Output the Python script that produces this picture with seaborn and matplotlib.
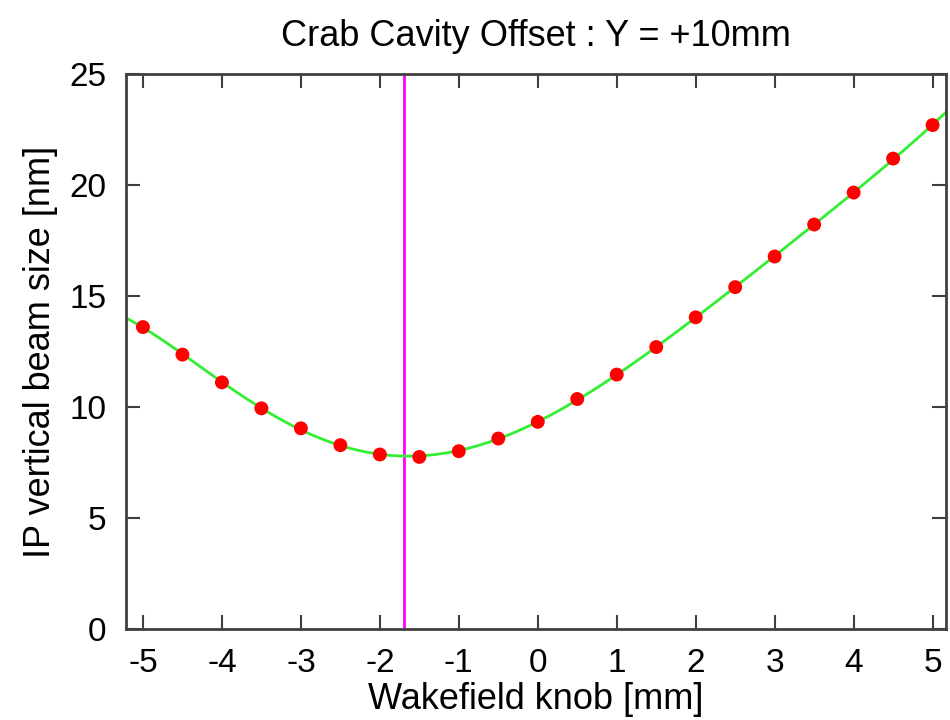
import numpy as np
import pandas as pd
import matplotlib
matplotlib.use("Agg")
import matplotlib.pyplot as plt
import seaborn as sns

# ---- data ----
knob_mm = [-5.0, -4.5, -4.0, -3.5, -3.0, -2.5, -2.0, -1.5, -1.0, -0.5,
           0.0, 0.5, 1.0, 1.5, 2.0, 2.5, 3.0, 3.5, 4.0, 4.5, 5.0]
beam_size_nm = [13.60, 12.36, 11.11, 9.94, 9.04, 8.28, 7.86, 7.75, 8.01, 8.58,
                9.33, 10.36, 11.46, 12.70, 14.04, 15.40, 16.78, 18.22, 19.66, 21.19, 22.70]
min_knob = -1.70
x_ticks = [-5, -4, -3, -2, -1, 0, 1, 2, 3, 4, 5]
y_ticks = [0, 5, 10, 15, 20, 25]
title = "Crab Cavity Offset : Y = +10mm"
xlabel = "Wakefield knob [mm]"
ylabel = "IP vertical beam size [nm]"

df = pd.DataFrame({"knob": knob_mm, "size": beam_size_nm})

sns.set_style("white")
plt.rcParams["font.family"] = ["Liberation Sans", "DejaVu Sans"]
plt.rcParams["axes.unicode_minus"] = False
plt.rcParams["text.color"] = "black"
plt.rcParams["axes.labelcolor"] = "black"
plt.rcParams["xtick.color"] = "black"
plt.rcParams["ytick.color"] = "black"

fig = plt.figure(figsize=(9.5, 7.2), dpi=100)
ax = fig.add_axes([0.1326, 0.1264, 0.8632, 0.7708])
ax.set_xlim(-5.215, 5.17)
ax.set_ylim(0, 25)

sns.regplot(data=df, x="knob", y="size", order=6, ci=None, truncate=False,
            scatter=False, line_kws=dict(color="#33ee33", lw=2.0, zorder=2), ax=ax)
ax.axvline(min_knob, color="#ff00ff", lw=2.0, zorder=1)
sns.scatterplot(data=df, x="knob", y="size", color="#ff0000", s=100,
                edgecolor="none", zorder=3, ax=ax)

ax.set_xticks(x_ticks)
ax.set_yticks(y_ticks)
ax.tick_params(axis="both", direction="in", length=10, width=1.5,
               labelsize=24, top=True, right=True, bottom=True, left=True)
ax.tick_params(axis="both", which="both", color="#404040")
ax.tick_params(axis="x", pad=14)
ax.tick_params(axis="y", pad=14)
for s in ax.spines.values():
    s.set_visible(True)
    s.set_color("#404040")
    s.set_linewidth(2.0)

ax.set_title(title, fontsize=26, pad=20)
ax.set_xlabel(xlabel, fontsize=26, labelpad=2)
ax.set_ylabel(ylabel, fontsize=26, labelpad=8)

fig.savefig("out.png", dpi=100)
